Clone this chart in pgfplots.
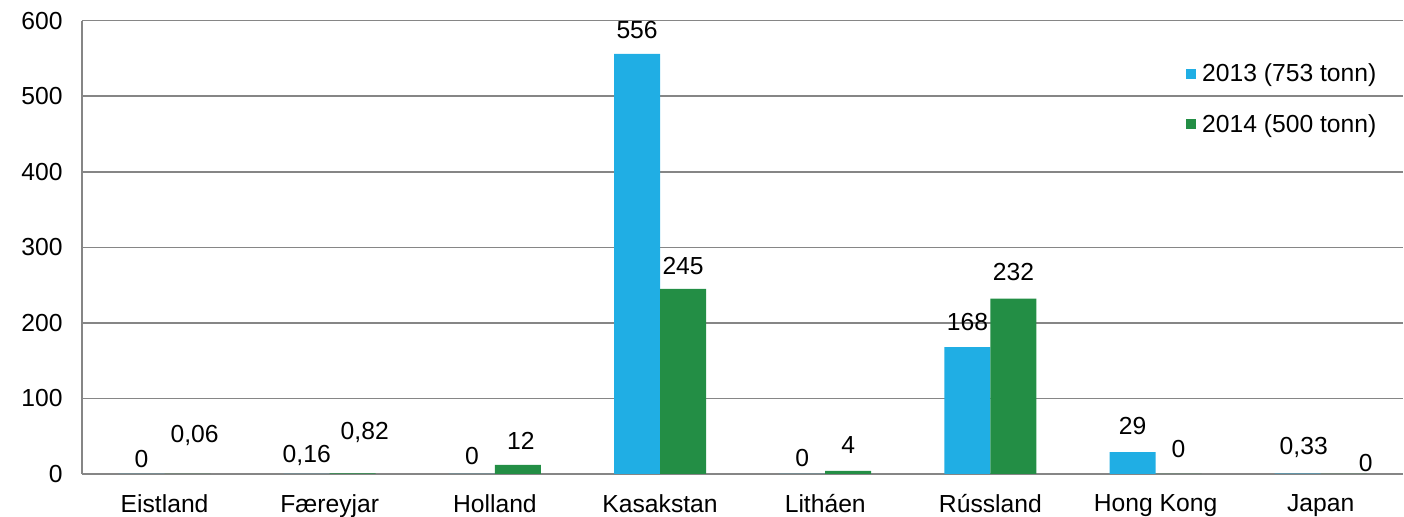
\documentclass[border=0pt]{standalone}
\usepackage{pgfplots}
\pgfplotsset{compat=1.18}
\usepackage{pgfplotstable}
\usepackage{fontspec}
\setmainfont{Liberation Sans}
\definecolor{blue13}{RGB}{32,174,228}
\definecolor{green14}{RGB}{35,142,69}
\definecolor{gridgray}{RGB}{134,134,134}
\newcommand{\lblfont}{\fontsize{18.5}{21}\selectfont}

% x = category index, off/xs = label offsets in px
\pgfplotstableread{
x y off xs label
0 0 15 0 0
1 0.16 18 0 0,16
2 0 18 0 0
3 556 24 0 556
4 0 16 0 0
5 168 25 0 168
6 29 26 0 29
7 0.33 26 6 0,33
}\dataA
\pgfplotstableread{
x y off xs label
0 0.06 38 7 0,06
1 0.82 41 12 0,82
2 12 24 3 12
3 245 23 0 245
4 4 26 0 4
5 232 27 0 232
6 0 25 0 0
7 0 11 22 0
}\dataB

\begin{document}
\begin{tikzpicture}
\useasboundingbox (-61.5pt,-32.25pt) rectangle (991.5pt,355.5pt);
\begin{axis}[
    at={(0,0)}, anchor=south west,
    scale only axis,
    width=991pt, height=340pt,
    ybar=0pt, bar width=34.5pt,
    xmin=-0.5, xmax=7.5,
    ymin=0, ymax=600,
    ytick={0,100,...,600},
    xtick=data,
    xticklabels={Eistland,Færeyjar,Holland,Kasakstan,Litháen,Rússland,Hong Kong,Japan},
    axis lines=left,
    axis line style={-, draw=gridgray, line width=1.1pt},
    ymajorgrids, grid style={gridgray, line width=1.1pt},
    major tick length=0pt,
    tick label style={font=\lblfont},
    /pgf/number format/assume math mode=true,
    yticklabel style={xshift=-11pt},
    xticklabel style={yshift=-12pt},
    clip=false,
    point meta=explicit symbolic,
    nodes near coords,
    visualization depends on={\thisrow{off} \as \yoff},
    visualization depends on={\thisrow{xs} \as \xoff},
    nodes near coords style={font=\lblfont, anchor=center,
        yshift={\yoff*0.75pt}, xshift={\xoff*0.75pt}},
    legend style={at={(1,1)}, anchor=north east, xshift=-15pt, yshift=-28pt,
        draw=none, fill=none, font=\lblfont,
        row sep=19pt, cells={anchor=west}},
    legend image code/.code={\fill[#1] (0pt,-3.75pt) rectangle (7.5pt,3.75pt);
        \path (10pt,0pt);},
]
\addplot[fill=blue13, draw=none] table[x=x, y=y, meta=label] {\dataA};
\addplot[fill=green14, draw=none] table[x=x, y=y, meta=label] {\dataB};
\legend{2013 (753 tonn), 2014 (500 tonn)}
\end{axis}
\end{tikzpicture}
\end{document}
